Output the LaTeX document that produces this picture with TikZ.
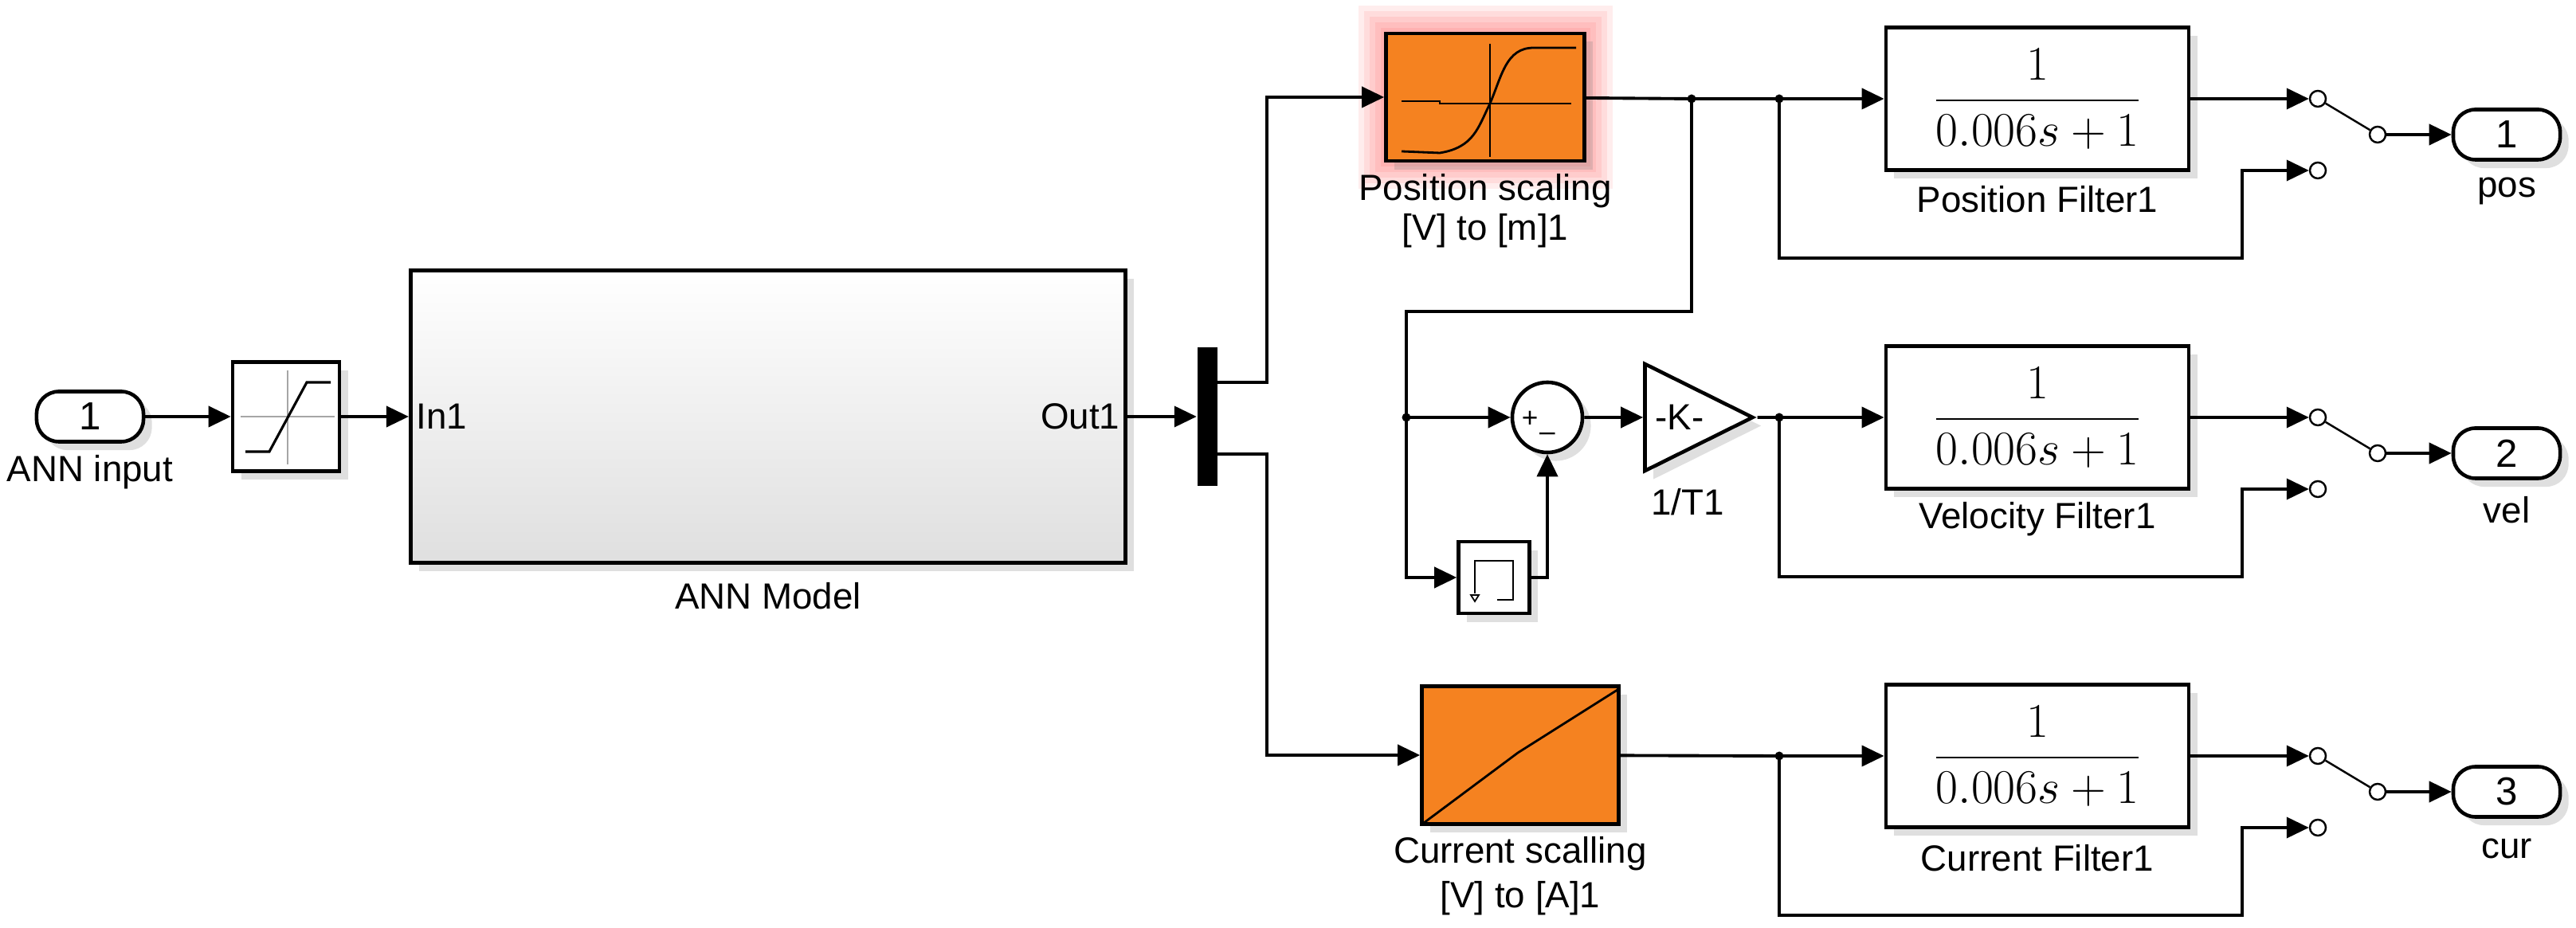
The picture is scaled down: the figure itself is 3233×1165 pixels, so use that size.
\documentclass[tikz,border=0pt]{standalone}
\usepackage{amsmath}
\usepackage{fontspec}
\setmainfont{Liberation Sans}
\usetikzlibrary{arrows.meta,shapes.geometric,shadows,positioning}
\definecolor{slorange}{RGB}{245,130,32}
\tikzset{
  sig/.style={line width=1.1pt,-{Triangle[length=0.28cm,width=0.26cm]}},
  wire/.style={line width=1.1pt},
  blk/.style={draw,line width=1.3pt,fill=white,inner sep=0pt,
    drop shadow={opacity=0.25,shadow xshift=3pt,shadow yshift=-3pt}},
  lbl/.style={font=\fontsize{13}{15}\selectfont,inner sep=0pt},
  prt/.style={blk,rounded corners=0.28cm,minimum width=1.34cm,minimum height=0.63cm,font=\fontsize{14}{16}\selectfont},
  swc/.style={circle,draw,line width=0.7pt,fill=white,inner sep=0pt,minimum size=0.2cm},
  filt/.style={blk,minimum width=3.8cm,minimum height=1.79cm,font=\fontsize{19}{23}\selectfont},
  dot/.style={circle,fill,inner sep=0pt,minimum size=0.11cm}
}
\begin{document}
\begin{tikzpicture}[x=0.01cm,y=-0.01cm]
\useasboundingbox (0,0) rectangle (3233,1165);

% input side
\node[prt] (in) at (113,523) {1};
\node[lbl] (inlab) at (113,593) {ANN input};
\node[blk,minimum width=1.34cm,minimum height=1.37cm] (sat) at (359,523) {};
\draw[gray!70,line width=0.6pt] (302,523) -- (420,523) (361,465) -- (361,583);
\draw[line width=0.9pt] (308,567) -- (338,567) -- (385,480) -- (415,480);
\node[blk,minimum width=8.97cm,minimum height=3.67cm,top color=white,bottom color=gray!25] (ann) at (964,523) {};
\node[lbl,anchor=west] (annin) at (522,523) {In1};
\node[lbl,anchor=east] (annout) at (1406,523) {Out1};
\node[lbl] (annlab) at (964,748) {ANN Model};
\node[fill=black,minimum width=0.25cm,minimum height=1.73cm,inner sep=0pt] (mux) at (1515,523) {};
\coordinate (mo1) at (1528,480);
\coordinate (mo2) at (1528,570);

\draw[sig] (in) -- (sat);
\draw[sig] (sat) -- (ann);
\draw[sig] (ann) -- (mux);

% scaling blocks
\foreach \s in {1,...,5} {
\fill[red,opacity=0.07] (1740-7*\s,42-7*\s) rectangle (1989+7*\s,202+7*\s);
}
\node[blk,fill=slorange,minimum width=2.49cm,minimum height=1.6cm] (pscale) at (1864,122) {};
\draw[line width=0.8pt] (1759,127) -- (1807,127) -- (1807,130) -- (1972,130) (1870,55) -- (1870,197);
\draw[line width=0.8pt] (1759,190) -- (1807,192) .. controls (1850,185) and (1855,160) .. (1870,130)
  .. controls (1885,95) and (1890,60) .. (1925,60) -- (1978,60);
\node[lbl] (pslab1) at (1864,240) {Position scaling};
\node[lbl] (pslab2) at (1864,290) {[V] to [m]1};
\node[blk,fill=slorange,minimum width=2.47cm,minimum height=1.73cm] (cscale) at (1908,948) {};
\draw[line width=0.8pt] (1787,1033) -- (1905,945) -- (2030,866);
\node[lbl] (cslab1) at (1908,1072) {Current scalling};
\node[lbl] (cslab2) at (1908,1128) {[V] to [A]1};

\draw[sig] (mo1) -- (1590,480) |- (pscale);
\draw[sig] (mo2) -- (1590,570) |- (cscale);

% velocity estimate
\node[circle,blk,minimum size=0.88cm] (sum) at (1942,524) {};
\node[font=\fontsize{10}{12}\selectfont] (plus) at (1920,526) {+};
\node[font=\fontsize{10}{12}\selectfont] (minus) at (1942,548) {--};
\node[blk,isosceles triangle,isosceles triangle stretches,minimum width=1.34cm,minimum height=1.35cm,
  font=\fontsize{13}{15}\selectfont] (gain) at (2108,524) {-K-};
\node[lbl] (gainlab) at (2118,630) {1/T1};
\node[blk,minimum width=0.89cm,minimum height=0.9cm] (del) at (1875,725) {};
\draw[line width=0.8pt] (1851,745) -- (1851,704) -- (1899,704) -- (1899,753) -- (1879,753);
\draw[line width=0.5pt] (1846,747) -- (1856,747) -- (1851,755) -- cycle;

\coordinate (j0) at (2123,124);
\coordinate (jv) at (1765,524);
\draw[wire] (pscale) -- (j0);
\draw[wire] (j0) |- (1765,391) -- (jv);
\draw[sig] (jv) -- (sum);
\draw[sig] (jv) |- (del);
\draw[sig] (del) -| (sum);
\draw[sig] (sum) -- (gain);

% filters and switches
\foreach \i/\y/\nm in {1/124/pos,2/524/vel,3/949/cur} {
\coordinate (j\i) at (2233,\y);
\node[filt] (f\i) at (2557,\y) {$\dfrac{1}{0.006s+1}$};
\node[swc] (st\i) at (2909,\y) {};
\node[swc] (so\i) at (2984,\y+45) {};
\node[swc] (sl\i) at (2909,\y+90) {};
\node[prt] (op\i) at (3146,\y+45) {\i};
\node[lbl] (oplab\i) at (3146,\y+116) {\nm};
\draw[sig] (j\i) -- (f\i);
\draw[sig] (f\i) -- (st\i);
\draw[line width=0.7pt] (st\i) -- (so\i);
\draw[sig] (so\i) -- (op\i);
\draw[sig] (j\i) |- (2814,\y+200) |- (sl\i);
}
\node[lbl] (fl1) at (2557,250) {Position Filter1};
\node[lbl] (fl2) at (2557,652) {Velocity Filter1};
\node[lbl] (fl3) at (2557,1077) {Current Filter1};

\draw[wire] (j0) -- (j1);
\draw[wire] (gain) -- (j2);
\draw[wire] (cscale) -- (j3);

\foreach \d in {j0,jv,j1,j2,j3} {
\node[dot] at (\d) {};
}
\end{tikzpicture}
\end{document}
